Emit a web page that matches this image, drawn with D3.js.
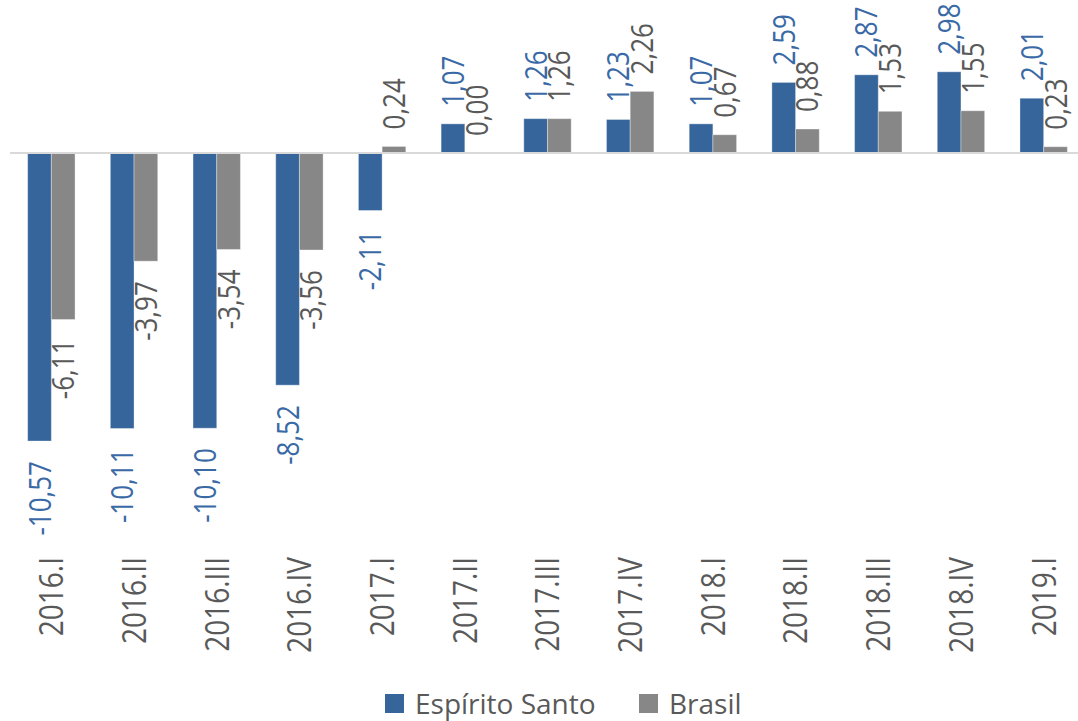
<!DOCTYPE html>
<meta charset="utf-8">
<style>
body { margin: 0; background: #fff; }
svg { display: block; font-family: "Open Sans", sans-serif; }
.zero { stroke: #d9d9d9; stroke-width: 2; }
.axis-label { fill: #595959; font-size: 28px; }
.val { font-size: 26px; }
.legend text { fill: #595959; font-size: 28px; }
</style>
<svg width="1078" height="721"></svg>
<script src="https://d3js.org/d3.v7.min.js"></script>
<script>

var categories = ["2016.I","2016.II","2016.III","2016.IV","2017.I","2017.II","2017.III","2017.IV","2018.I","2018.II","2018.III","2018.IV","2019.I"];
var espiritoSanto = [-10.57,-10.11,-10.10,-8.52,-2.11,1.07,1.26,1.23,1.07,2.59,2.87,2.98,2.01];
var brasil = [-6.11,-3.97,-3.54,-3.56,0.24,0.00,1.26,2.26,0.67,0.88,1.53,1.55,0.23];
var seriesNames = ["Espírito Santo","Brasil"];
var barColors = ["#35659b","#878787"];
var labelColors = ["#3a6aa6","#595959"];

var svg = d3.select("svg");

var x = d3.scaleBand().domain(categories).range([10, 1085]);
var xs = d3.scaleBand().domain([0, 1]).range([0, x.bandwidth()]).paddingInner(0).paddingOuter(0.745);
var y = d3.scaleLinear().domain([-12, 4]).range([480, 44]);

var fmt = function(v) { return v.toFixed(2).replace(".", ","); };

// rotated text in the original is drawn a bit wider across than Open Sans
var stretch = " scale(1,1.18)";

var series = [espiritoSanto, brasil];

series.forEach(function(vals, s) {
	var g = svg.append("g");
	g.selectAll("rect")
		.data(vals)
		.enter().append("rect")
			.attr("x", function(d, i) { return x(categories[i]) + xs(s); })
			.attr("width", xs.bandwidth())
			.attr("y", function(d) { return y(Math.max(0, d)); })
			.attr("height", function(d) { return Math.abs(y(d) - y(0)); })
			.attr("fill", barColors[s])
			.attr("stroke", "#fff")
			.attr("stroke-opacity", 0.35)
			.attr("stroke-width", 1);
});

svg.append("line")
	.attr("class", "zero")
	.attr("x1", 10).attr("x2", 1078)
	.attr("y1", y(0)).attr("y2", y(0));

series.forEach(function(vals, s) {
	svg.append("g").selectAll("text")
		.data(vals)
		.enter().append("text")
			.attr("class", "val")
			.attr("fill", labelColors[s])
			.attr("transform", function(d, i) {
				var cx = x(categories[i]) + xs(s) + xs.bandwidth() / 2;
				var yy = d >= 0 ? y(d) - 17 : y(d) + 20;
				return "translate(" + cx + "," + yy + ") rotate(-90)" + stretch;
			})
			.attr("dy", "0.36em")
			.attr("text-anchor", function(d) { return d >= 0 ? "start" : "end"; })
			.text(fmt);
});

svg.append("g").selectAll("text")
	.data(categories)
	.enter().append("text")
		.attr("class", "axis-label")
		.attr("transform", function(d) {
			return "translate(" + (x(d) + x.bandwidth() / 2) + ",557) rotate(-90)" + stretch;
		})
		.attr("dy", "0.36em")
		.attr("text-anchor", "end")
		.text(function(d) { return d; });

var legend = svg.append("g").attr("class", "legend");
var legendX = [385, 639];
seriesNames.forEach(function(name, s) {
	legend.append("rect")
		.attr("x", legendX[s]).attr("y", 694)
		.attr("width", 19).attr("height", 19)
		.attr("fill", barColors[s]);
	legend.append("text")
		.attr("x", legendX[s] + 30).attr("y", 714)
		.text(name);
});

</script>
